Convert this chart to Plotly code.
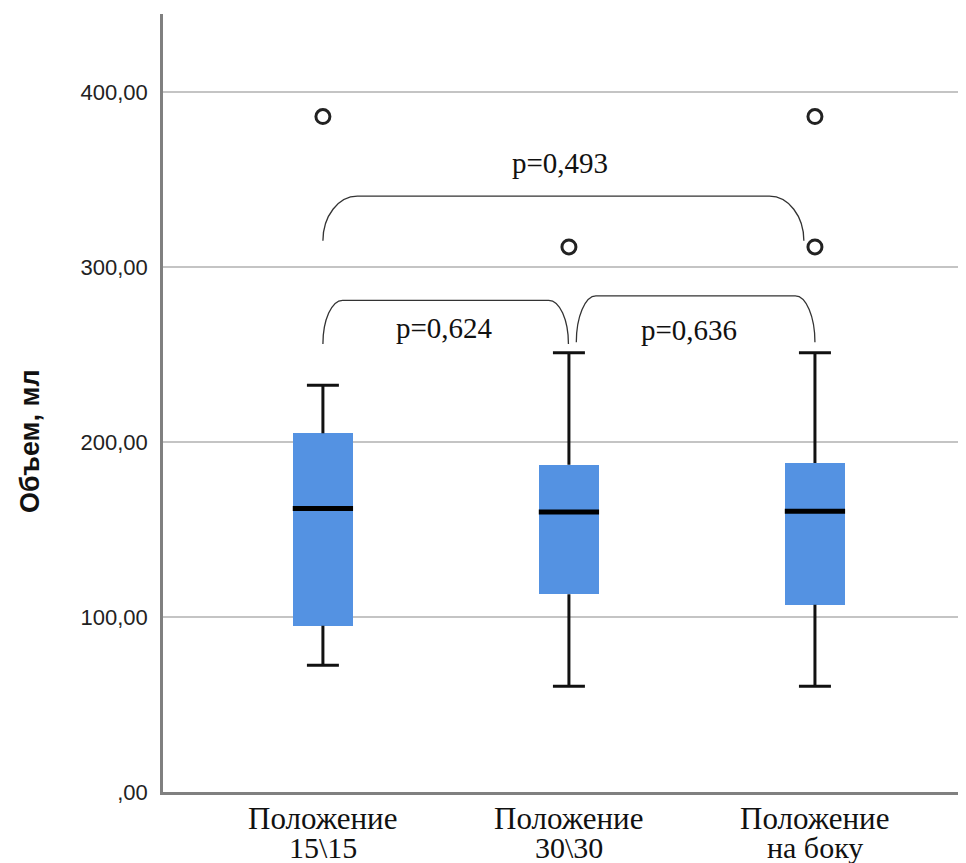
import plotly.graph_objects as go

# ---- data ----
categories = [0, 1, 2]
label_line1 = ["Положение", "Положение", "Положение"]
label_line2 = ["15\\15", "30\\30", "на боку"]
q1 = [95, 113, 107]
median = [162, 160, 160.5]
q3 = [205, 187, 188]
whisker_low = [72.5, 60.5, 60.5]
whisker_high = [232.5, 251, 251]
outlier_x = [0, 1, 2, 2]
outlier_y = [386, 311.5, 386, 311.5]

tick_vals = [0, 100, 200, 300, 400]
tick_text = [",00", "100,00", "200,00", "300,00", "400,00"]

# comparisons: (from, to, bottom, top, p-label, label x, label y)
cmp_from = [0, 0, 1.03]
cmp_to = [1.955, 0.998, 2.0]
cmp_bottom = [315, 256, 257]
cmp_top = [340.5, 281, 283.5]
cmp_label = ["p=0,493", "p=0,624", "p=0,636"]
cmp_label_x = [0.963, 0.496, 1.49]
cmp_label_y = [359.5, 265, 264]
cmp_corner = [0.14, 0.08, 0.08]

BOX_W = 0.245
CAP_W = 0.13
BLUE = "#5492E2"
SANS = "Liberation Sans, Arial, sans-serif"
SERIF = "Liberation Serif, Times New Roman, serif"

fig = go.Figure()

# whiskers (outside box only)
wx, wy = [], []
for c, lo, a, b, hi in zip(categories, whisker_low, q1, q3, whisker_high):
    wx += [c, c, None, c, c, None]
    wy += [lo, a, None, b, hi, None]
fig.add_trace(go.Scatter(x=wx, y=wy, mode="lines",
                         line=dict(color="#111111", width=3), hoverinfo="skip",
                         showlegend=False))
# caps
cx, cy = [], []
for c, lo, hi in zip(categories, whisker_low, whisker_high):
    cx += [c - CAP_W / 2, c + CAP_W / 2, None, c - CAP_W / 2, c + CAP_W / 2, None]
    cy += [lo, lo, None, hi, hi, None]
fig.add_trace(go.Scatter(x=cx, y=cy, mode="lines",
                         line=dict(color="#111111", width=3), hoverinfo="skip",
                         showlegend=False))

# boxes
fig.add_trace(go.Bar(x=categories, y=[b - a for a, b in zip(q1, q3)], base=q1,
                     width=BOX_W, marker=dict(color=BLUE, line=dict(width=0)),
                     showlegend=False))

# medians
mx, my = [], []
for c, m in zip(categories, median):
    mx += [c - BOX_W / 2, c + BOX_W / 2, None]
    my += [m, m, None]
fig.add_trace(go.Scatter(x=mx, y=my, mode="lines",
                         line=dict(color="#000000", width=5), hoverinfo="skip",
                         showlegend=False))

# outliers
fig.add_trace(go.Scatter(x=outlier_x, y=outlier_y, mode="markers",
                         marker=dict(symbol="circle-open", size=14,
                                     color="#222222", line=dict(width=3)),
                         showlegend=False))

# brackets
shapes = []
for x0, x1, yb, yt, d in zip(cmp_from, cmp_to, cmp_bottom, cmp_top, cmp_corner):
    h = yt - yb
    k = 0.552
    path = (f"M {x0},{yb} C {x0},{yb + k * h} {x0 + d * (1 - k)},{yt} {x0 + d},{yt} "
            f"L {x1 - d},{yt} C {x1 - d * (1 - k)},{yt} {x1},{yb + k * h} {x1},{yb}")
    shapes.append(dict(type="path", xref="x", yref="y", path=path,
                       line=dict(color="#333333", width=1.3)))

annotations = []
for t, x, y in zip(cmp_label, cmp_label_x, cmp_label_y):
    annotations.append(dict(x=x, y=y, xref="x", yref="y", text=t, showarrow=False,
                            font=dict(family=SERIF, size=29, color="#111111")))

for c, l1, l2 in zip(categories, label_line1, label_line2):
    annotations.append(dict(x=c, y=0, xref="x", yref="paper", text=l1, showarrow=False,
                            yanchor="middle", yshift=-26,
                            font=dict(family=SERIF, size=31, color="#111111")))
    annotations.append(dict(x=c, y=0, xref="x", yref="paper", text=l2, showarrow=False,
                            yanchor="middle", yshift=-55,
                            font=dict(family=SERIF, size=30, color="#111111")))

annotations.append(dict(x=0, y=0.451, xref="paper", yref="paper", text="<b>Объем, мл</b>",
                        showarrow=False, textangle=-90, xanchor="center", yanchor="middle",
                        xshift=-133, font=dict(family=SANS, size=27, color="#111111")))

fig.update_layout(
    width=958, height=855,
    margin=dict(l=155, r=0, t=6, b=71),
    paper_bgcolor="white", plot_bgcolor="white",
    shapes=shapes, annotations=annotations,
    xaxis=dict(range=[-0.65, 2.614], showgrid=False, zeroline=False,
               showticklabels=False, ticks="",
               showline=True, linecolor="#808080", linewidth=2.5),
    yaxis=dict(range=[0, 444.6], tickvals=tick_vals, ticktext=tick_text,
               showgrid=True, gridcolor="#c4c4c4", gridwidth=2,
               zeroline=False, ticks="", ticklabelstandoff=8,
               showline=True, linecolor="#808080", linewidth=2.5,
               tickfont=dict(family=SANS, size=22, color="#222222")),
    bargap=0,
)

fig.write_html("out.html")
